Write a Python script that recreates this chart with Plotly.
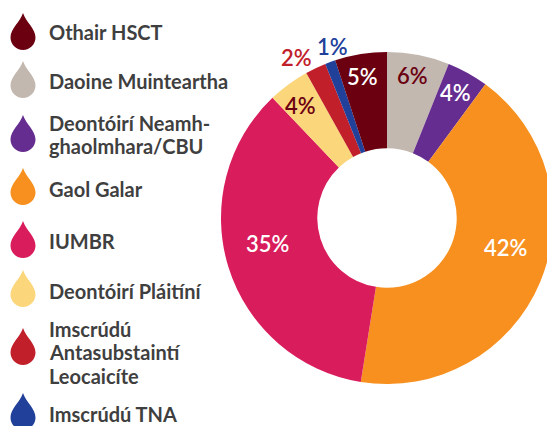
import plotly.graph_objects as go

# ---- data ----
categories = ["Daoine Muinteartha", "Deontóirí Neamh-ghaolmhara/CBU", "Gaol Galar", "IUMBR",
              "Deontóirí Pláitíní", "Imscrúdú Antasubstaintí Leocaicíte", "Imscrúdú TNA", "Othair HSCT"]
values = [6, 4, 42, 35, 4, 2, 1, 5]
slice_labels = ["6%", "4%", "42%", "35%", "4%", "2%", "1%", "5%"]
colors = ["#c3b8b0", "#662d91", "#f7901e", "#d91c5c", "#fbd67a", "#c1202b", "#21409a", "#6b0011"]
label_colors = ["#6b0011", "#ffffff", "#ffffff", "#ffffff", "#6b0011", "#c1202b", "#21409a", "#ffffff"]

legend_lines = [["Othair HSCT"], ["Daoine Muinteartha"], ["Deontóirí Neamh-", "ghaolmhara/CBU"], ["Gaol Galar"],
                ["IUMBR"], ["Deontóirí Pláitíní"], ["Imscrúdú", "Antasubstaintí", "Leocaicíte"], ["Imscrúdú TNA"]]
legend_colors = ["#6b0011", "#c3b8b0", "#662d91", "#f7901e", "#d91c5c", "#fbd67a", "#c1202b", "#21409a"]

# ---- layout (pixel positions, styling only) ----
W, H = 560, 426          # figure a bit wider than the 547 window; right side of donut is cropped as in reference
CX, CY, R = 387, 218, 166
label_pos = [(412, 74), (455, 92), (505, 247), (267, 242), (300, 104), (296, 57), (332, 45), (362, 75)]

fig = go.Figure(go.Pie(
    values=values, labels=categories, text=slice_labels, textinfo="none",
    sort=False, direction="clockwise", rotation=0, hole=0.42,
    marker=dict(colors=colors, line=dict(width=0)),
    domain=dict(x=[(CX - R) / W, (CX + R) / W], y=[1 - (CY + R) / H, 1 - (CY - R) / H]),
    showlegend=False, hoverinfo="label+text",
))

def px(x):
    return x / W

def py(y):
    return 1 - y / H

def drop_path(cx, top, w, h):
    r = w / 2
    k = 0.5523 * r
    cyb = top + h - r
    pts = []
    pts.append(f"M {px(cx)},{py(top)}")
    pts.append(f"C {px(cx + 0.12*w)},{py(top + 0.25*h)} {px(cx + r)},{py(top + 0.42*h)} {px(cx + r)},{py(cyb)}")
    pts.append(f"C {px(cx + r)},{py(cyb + k)} {px(cx + k)},{py(cyb + r)} {px(cx)},{py(cyb + r)}")
    pts.append(f"C {px(cx - k)},{py(cyb + r)} {px(cx - r)},{py(cyb + k)} {px(cx - r)},{py(cyb)}")
    pts.append(f"C {px(cx - r)},{py(top + 0.42*h)} {px(cx - 0.12*w)},{py(top + 0.25*h)} {px(cx)},{py(top)} Z")
    return " ".join(pts)

drop_tops = [13, 61, 115, 168, 221, 270, 328, 393]
line_y = [[31], [80], [122, 145], [188], [240], [290], [328, 351, 375], [413]]

shapes = []
annotations = []
for i, (lines, col) in enumerate(zip(legend_lines, legend_colors)):
    shapes.append(dict(type="path", xref="paper", yref="paper", path=drop_path(23, drop_tops[i], 25, 37),
                       fillcolor=col, line=dict(width=0)))
    for txt, yy in zip(lines, line_y[i]):
        annotations.append(dict(x=px(47), y=py(yy + 1), xref="paper", yref="paper", xanchor="left", yanchor="middle",
                                text=f"<b>{txt}</b>", showarrow=False, align="left",
                                font=dict(family="Lato", size=20, color="#3f3f3f")))

# percentage labels
for lbl, col, (xx, yy) in zip(slice_labels, label_colors, label_pos):
    annotations.append(dict(x=px(xx), y=py(yy + 1), xref="paper", yref="paper", xanchor="center", yanchor="middle",
                            text=lbl, showarrow=False,
                            font=dict(family="Lato", size=22, color=col, weight=600)))

fig.update_layout(width=W, height=H, margin=dict(l=0, r=0, t=0, b=0),
                  paper_bgcolor="white", plot_bgcolor="white",
                  shapes=shapes, annotations=annotations)

fig.write_html("out.html", config={"displayModeBar": False},
               post_script="document.body.style.margin='0';document.body.style.overflow='hidden';")
